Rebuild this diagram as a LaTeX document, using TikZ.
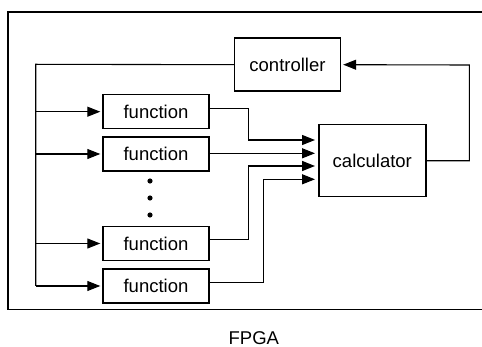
\documentclass[tikz,border=0pt]{standalone}
\usepackage{fontspec}
\setmainfont{Liberation Sans}
\usepackage{tikz}
\usetikzlibrary{arrows.meta,positioning}

\begin{document}
\begin{tikzpicture}[x=1pt, y=-1pt, font=\fontsize{18.5}{20}\selectfont,
  unit/.style={draw, rectangle, line width=1.4pt, minimum width=106pt, minimum height=34pt, inner sep=0pt},
  link/.style={line width=1.1pt},
  arr/.style={link, -{Triangle[length=13pt,width=10pt]}}]
\useasboundingbox (0,0) rectangle (482,347);
\draw[line width=1.9pt] (482,12) -- (8.3,12) -- (8.3,309.5) -- (482,309.5);

\node[unit, minimum height=53pt] (ctrl) at (287.5,64.7) {controller};
\node[unit] (fn1) at (156,111.7) {function};
\node[unit] (fn2) at (156,154) {function};
\node[unit] (fn3) at (156,243.5) {function};
\node[unit] (fn4) at (156,286) {function};
\node[unit, minimum width=107pt, minimum height=72pt] (calc) at (372.3,160.8) {calculator};
\node[anchor=base] (fpga) at (253.8,344.5) {FPGA};

\foreach \y in {181,198,215} \fill (150,\y) circle (2.6pt);

\coordinate (bus) at (35.7,64.3);
\coordinate (jn1) at (248.3,0);
\coordinate (jn2) at (263.3,0);
\coordinate (back) at (469.3,0);

\draw[link] (ctrl.west) -- (bus) -- (bus |- fn4.west);
\foreach \f in {fn1,fn2,fn3,fn4}
  \draw[arr] (bus |- \f.west) -- ([xshift=-2pt]\f.west);

\draw[arr] ([yshift=3.5pt]fn1.east) -| (jn1 |- 0,140) -- (315,140);
\draw[arr] ([yshift=0.7pt]fn2.east) -- (315,153.3);
\draw[arr, line width=1.5pt] ([yshift=4pt]fn3.east) -| (jn1 |- 0,166) -- (315,166);
\draw[arr] ([yshift=3.3pt]fn4.east) -| (jn2 |- 0,179.3) -- (315,179.3);

\draw[arr] (calc.east) -| (back |- 0,65) -- ([xshift=2pt]ctrl.east);
\end{tikzpicture}
\end{document}
